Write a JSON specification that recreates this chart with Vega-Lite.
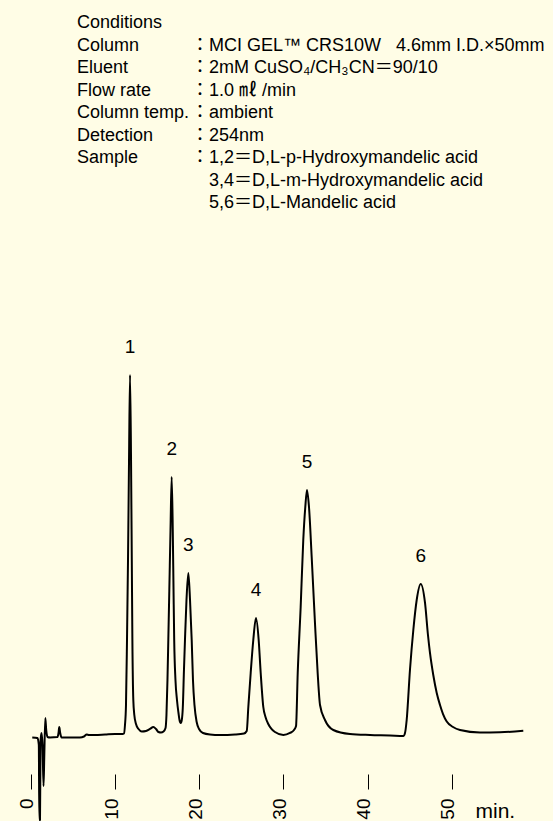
{
  "$schema": "https://vega.github.io/schema/vega-lite/v6.json",
  "width": 553,
  "height": 774,
  "autosize": "none",
  "padding": {"left": 0, "top": 0, "right": 0, "bottom": 47},
  "background": "#FFFDE6",
  "config": {"view": {"stroke": null}, "font": "Liberation Sans"},
  "datasets": {
    "trace": [{"t":0.15,"s":-0.69},{"t":0.77,"s":-0.83},{"t":0.93,"s":-2.78},{"t":0.99,"s":-23.61},{"t":1.07,"s":-23.61},{"t":1.14,"s":-1.39},{"t":1.25,"s":0.56},{"t":1.37,"s":-2.78},{"t":1.49,"s":-14.17},{"t":1.57,"s":-6.94},{"t":1.70,"s":4.72},{"t":1.81,"s":1.39},{"t":1.96,"s":-0.56},{"t":2.26,"s":-0.69},{"t":3.15,"s":-0.56},{"t":3.27,"s":0.56},{"t":3.36,"s":2.22},{"t":3.47,"s":0.56},{"t":3.63,"s":-0.69},{"t":4.64,"s":-0.69},{"t":5.82,"s":-0.69},{"t":6.30,"s":-0.42},{"t":6.62,"s":0.14},{"t":6.89,"s":0},{"t":7.61,"s":0},{"t":8.80,"s":0.14},{"t":9.98,"s":0.28},{"t":10.58,"s":0.28},{"t":10.88,"s":0.28},{"t":11.05,"s":0.42},{"t":11.17,"s":2.78},{"t":11.29,"s":8.33},{"t":11.41,"s":26.39},{"t":11.53,"s":48.61},{"t":11.65,"s":76.39},{"t":11.77,"s":100},{"t":11.89,"s":76.39},{"t":11.98,"s":48.61},{"t":12.05,"s":26.39},{"t":12.16,"s":9.72},{"t":12.28,"s":5.56},{"t":12.48,"s":3.06},{"t":12.78,"s":1.67},{"t":13.16,"s":0.97},{"t":13.67,"s":1.11},{"t":14.14,"s":1.67},{"t":14.54,"s":2.22},{"t":14.86,"s":1.67},{"t":15.15,"s":0.83},{"t":15.45,"s":0.69},{"t":15.75,"s":0.97},{"t":15.99,"s":1.94},{"t":16.10,"s":5.56},{"t":16.22,"s":15.28},{"t":16.32,"s":26.39},{"t":16.44,"s":40.28},{"t":16.58,"s":56.94},{"t":16.72,"s":71.67},{"t":16.85,"s":56.94},{"t":16.94,"s":40.28},{"t":17.02,"s":26.39},{"t":17.17,"s":15.28},{"t":17.35,"s":9.72},{"t":17.53,"s":6.11},{"t":17.65,"s":4.17},{"t":17.79,"s":3.33},{"t":17.92,"s":4.17},{"t":18.04,"s":7.5},{"t":18.18,"s":18.06},{"t":18.30,"s":26.39},{"t":18.48,"s":37.5},{"t":18.70,"s":45},{"t":18.90,"s":37.5},{"t":19.10,"s":26.39},{"t":19.25,"s":15.28},{"t":19.43,"s":8.33},{"t":19.69,"s":3.61},{"t":19.97,"s":1.67},{"t":20.44,"s":0.56},{"t":21.27,"s":0.14},{"t":22.46,"s":0},{"t":24.25,"s":0.14},{"t":25.32,"s":0.42},{"t":25.64,"s":1.11},{"t":25.83,"s":7.78},{"t":26.11,"s":17.22},{"t":26.42,"s":26.39},{"t":26.74,"s":32.5},{"t":27.06,"s":26.39},{"t":27.30,"s":17.22},{"t":27.61,"s":7.78},{"t":27.87,"s":5},{"t":28.20,"s":3.06},{"t":28.58,"s":1.67},{"t":29.00,"s":0.83},{"t":29.99,"s":0},{"t":30.78,"s":0.56},{"t":31.26,"s":1.39},{"t":31.50,"s":2.5},{"t":31.70,"s":17.22},{"t":32.05,"s":35.56},{"t":32.36,"s":54.17},{"t":32.60,"s":63.33},{"t":32.80,"s":68.06},{"t":33.04,"s":63.33},{"t":33.36,"s":49.44},{"t":33.75,"s":31.11},{"t":34.07,"s":17.22},{"t":34.35,"s":8.33},{"t":34.94,"s":4.17},{"t":35.93,"s":1.39},{"t":37.91,"s":0.28},{"t":40.29,"s":0},{"t":42.67,"s":-0.14},{"t":44.25,"s":-0.28},{"t":44.45,"s":0.56},{"t":44.65,"s":4.17},{"t":45.04,"s":18.06},{"t":45.44,"s":29.17},{"t":45.84,"s":37.5},{"t":46.32,"s":41.94},{"t":46.83,"s":36.67},{"t":47.18,"s":27.78},{"t":47.42,"s":22.78},{"t":47.81,"s":16.67},{"t":48.22,"s":11.67},{"t":48.61,"s":8.33},{"t":48.97,"s":5.83},{"t":49.41,"s":3.75},{"t":50.16,"s":2.22},{"t":50.99,"s":1.39},{"t":53.36,"s":0.69},{"t":55.74,"s":0.75},{"t":58.51,"s":1.19}],
    "peaks": [
      {"peak": "1", "t": 11.77, "s": 100},
      {"peak": "2", "t": 16.72, "s": 71.67},
      {"peak": "3", "t": 18.70, "s": 45},
      {"peak": "4", "t": 26.74, "s": 32.5},
      {"peak": "5", "t": 32.80, "s": 68.06},
      {"peak": "6", "t": 46.32, "s": 41.94}
    ],
    "conditions": [
      {"line": 0, "col": 0, "text": "Conditions"},
      {"line": 1, "col": 0, "text": "Column"},
      {"line": 1, "col": 1, "text": "："},
      {"line": 1, "col": 2, "text": "MCI GEL™ CRS10W\u00a0\u00a0\u00a04.6mm I.D.×50mm"},
      {"line": 2, "col": 0, "text": "Eluent"},
      {"line": 2, "col": 1, "text": "："},
      {"line": 2, "col": 2, "text": "2mM CuSO₄/CH₃CN＝90/10"},
      {"line": 3, "col": 0, "text": "Flow rate"},
      {"line": 3, "col": 1, "text": "："},
      {"line": 3, "col": 2, "text": "1.0 ㎖ /min"},
      {"line": 4, "col": 0, "text": "Column temp."},
      {"line": 4, "col": 1, "text": "："},
      {"line": 4, "col": 2, "text": "ambient"},
      {"line": 5, "col": 0, "text": "Detection"},
      {"line": 5, "col": 1, "text": "："},
      {"line": 5, "col": 2, "text": "254nm"},
      {"line": 6, "col": 0, "text": "Sample"},
      {"line": 6, "col": 1, "text": "："},
      {"line": 6, "col": 2, "text": "1,2＝D,L-p-Hydroxymandelic acid"},
      {"line": 7, "col": 2, "text": "3,4＝D,L-m-Hydroxymandelic acid"},
      {"line": 8, "col": 2, "text": "5,6＝D,L-Mandelic acid"}
    ]
  },
  "layer": [
    {
      "layer": [
        {
          "data": {"name": "trace"},
          "mark": {"type": "line", "color": "#000000", "strokeWidth": 2, "interpolate": "monotone", "strokeJoin": "round"},
          "encoding": {
            "x": {
              "field": "t", "type": "quantitative",
              "scale": {"domain": [-3.684, 62.04], "nice": false, "zero": false},
              "axis": {
                "values": [0, 10, 20, 30, 40, 50], "format": "d",
                "domain": false, "grid": false,
                "tickSize": 15, "tickWidth": 1, "tickColor": "#000000",
                "labelAngle": 270, "labelAlign": "right", "labelBaseline": "alphabetic",
                "labelOffset": 2, "labelPadding": 9, "labelFontSize": 19,
                "labelFont": "Liberation Sans", "labelColor": "#000000",
                "labelFlush": false, "labelOverlap": false, "labelBound": false,
                "title": "min.", "titleAngle": 0, "titleAlign": "left", "titleBaseline": "alphabetic",
                "titleX": 475, "titleY": 43, "titleFontSize": 21, "titleFontWeight": "normal",
                "titleColor": "#000000", "titleFont": "Liberation Sans"
              }
            },
            "y": {
              "field": "s", "type": "quantitative",
              "scale": {"domain": [-10.833, 204.167], "nice": false, "zero": false},
              "axis": null
            }
          }
        },
        {
          "data": {"name": "peaks"},
          "mark": {"type": "text", "fontSize": 19, "font": "Liberation Sans", "color": "#000000", "align": "center", "baseline": "alphabetic", "dy": -22},
          "encoding": {
            "x": {"field": "t", "type": "quantitative"},
            "y": {"field": "s", "type": "quantitative"},
            "text": {"field": "peak"}
          }
        }
      ]
    },
    {
      "data": {"name": "conditions"},
      "mark": {"type": "text", "fontSize": 18, "font": "Liberation Sans, Noto Sans CJK JP, DejaVu Sans", "color": "#000000", "align": "left", "baseline": "alphabetic"},
      "encoding": {
        "x": {"field": "col", "type": "quantitative", "scale": {"domain": [0, 1, 2], "range": [77, 191, 209]}, "axis": null},
        "y": {"field": "line", "type": "quantitative", "scale": {"domain": [0, 8], "range": [28, 208]}, "axis": null},
        "text": {"field": "text"}
      }
    }
  ],
  "resolve": {"scale": {"x": "independent", "y": "independent"}}
}
